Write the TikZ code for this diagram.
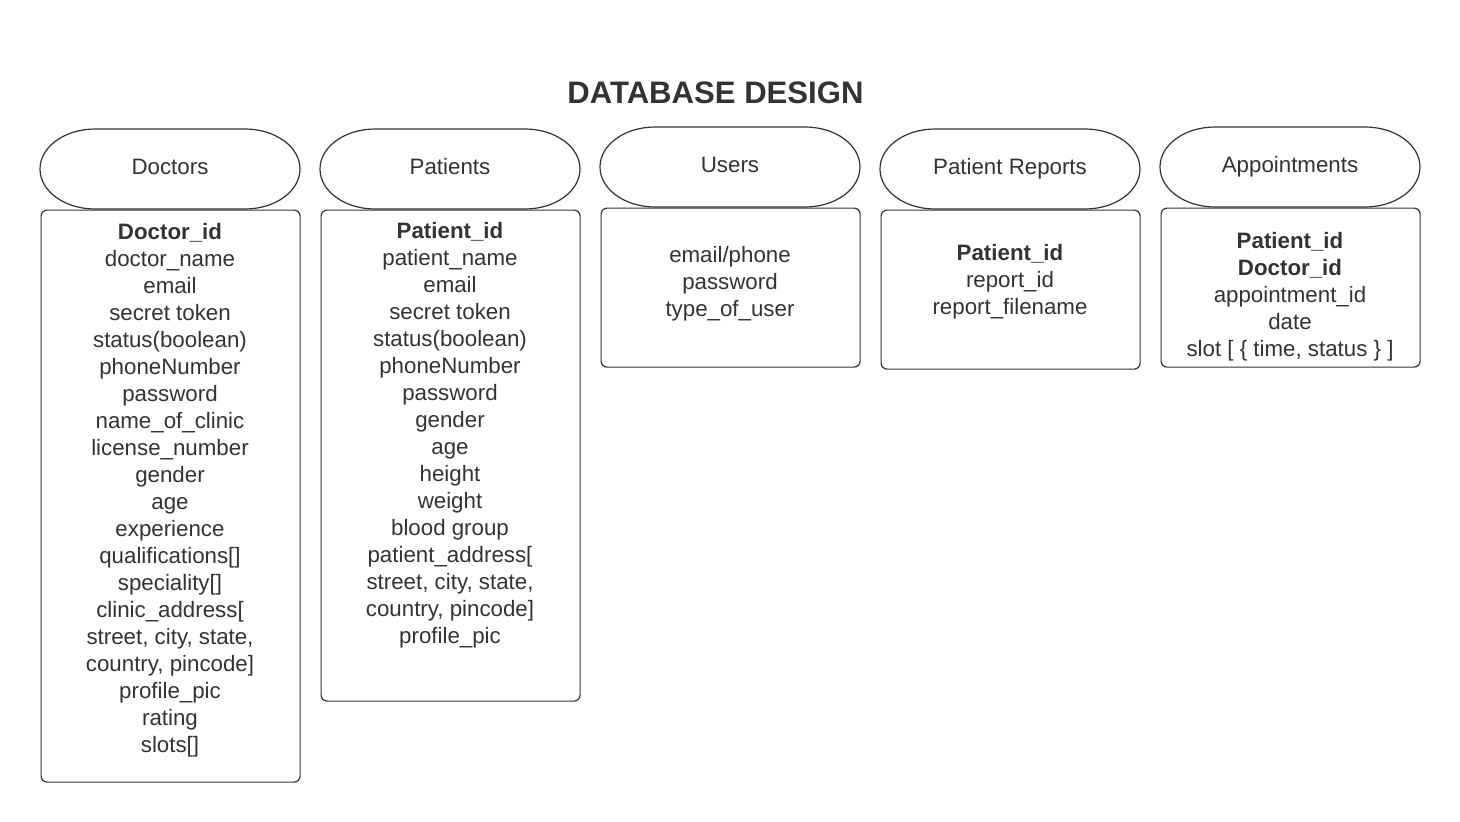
\documentclass[tikz,border=0pt]{standalone}
\usepackage{fontspec}
\setmainfont{Liberation Sans}
\definecolor{ink}{HTML}{333333}
\tikzset{
  hdr/.style={draw=ink, line width=1.2pt},
  tbl/.style={draw=ink, line width=1.2pt, rounded corners=6pt, inner sep=0pt, anchor=north west},
  lbl/.style={text=ink, font=\fontsize{22.3}{27}\selectfont, inner sep=0pt, anchor=base},
  fields/.style={text=ink, font=\fontsize{22.3}{27}\selectfont, inner sep=0pt, anchor=north, align=center},
}
% header capsule: #1 = left x, #2 = top y (width 260, height 80)
\newcommand\hdrshape[2]{%
  \draw[hdr] (#1+55,#2) -- (#1+205,#2)
    .. controls (#1+235.4,#2) and (#1+260,#2+17.9) .. (#1+260,#2+40)
    .. controls (#1+260,#2+62.1) and (#1+235.4,#2+80) .. (#1+205,#2+80)
    -- (#1+55,#2+80)
    .. controls (#1+24.6,#2+80) and (#1,#2+62.1) .. (#1,#2+40)
    .. controls (#1,#2+17.9) and (#1+24.6,#2) .. (#1+55,#2) -- cycle;%
}
\begin{document}
\begin{tikzpicture}[x=1pt,y=-1pt]
\useasboundingbox[fill=white] (0,0) rectangle (1460,822);

\node[lbl, font=\fontsize{31.1}{36}\selectfont\bfseries] (title) at (715.5,103) {DATABASE DESIGN};

% Doctors
\hdrshape{40}{129}
\node[lbl] (hdoc) at (170,174) {Doctors};
\node[tbl, minimum width=259pt, minimum height=572pt] (bdoc) at (40.5,209.5) {};
\node[fields] (fdoc) at (170,223) {\textbf{Doctor\_id}\\doctor\_name\\email\\secret token\\status(boolean)\\phoneNumber\\password\\name\_of\_clinic\\license\_number\\gender\\age\\experience\\qualifications[]\\speciality[]\\clinic\_address[\\street, city, state,\\country, pincode]\\profile\_pic\\rating\\slots[]};

% Patients
\hdrshape{320}{129}
\node[lbl] (hpat) at (450,174) {Patients};
\node[tbl, minimum width=259pt, minimum height=491pt] (bpat) at (320.5,209.5) {};
\node[fields] (fpat) at (450,222) {\textbf{Patient\_id}\\patient\_name\\email\\secret token\\status(boolean)\\phoneNumber\\password\\gender\\age\\height\\weight\\blood group\\patient\_address[\\street, city, state,\\country, pincode]\\profile\_pic};

% Users
\hdrshape{600}{127}
\node[lbl] (husr) at (730,172) {Users};
\node[tbl, minimum width=259pt, minimum height=159pt] (busr) at (600.5,207.5) {};
\node[fields] (fusr) at (730,246) {email/phone\\password\\type\_of\_user};

% Patient Reports
\hdrshape{880}{129}
\node[lbl] (hrep) at (1010,174) {Patient Reports};
\node[tbl, minimum width=259pt, minimum height=159pt] (brep) at (880.5,209.5) {};
\node[fields] (frep) at (1010,244) {\textbf{Patient\_id}\\report\_id\\report\_filename};

% Appointments
\hdrshape{1160}{127}
\node[lbl] (happ) at (1290,172) {Appointments};
\node[tbl, minimum width=259pt, minimum height=159pt] (bapp) at (1160.5,207.5) {};
\node[fields] (fapp) at (1290,232) {\textbf{Patient\_id}\\\textbf{Doctor\_id}\\appointment\_id\\date\\slot [ \{ time, status \} ]};
\end{tikzpicture}
\end{document}
